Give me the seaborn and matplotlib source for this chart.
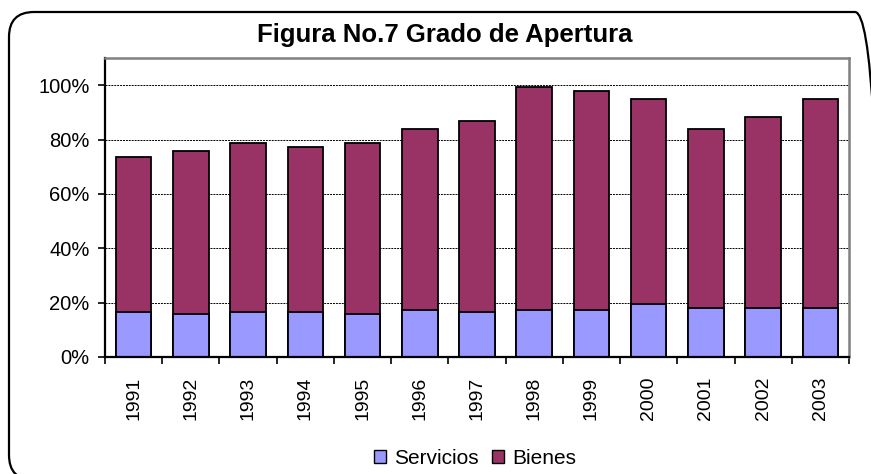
import numpy as np
import pandas as pd
import matplotlib
matplotlib.use('Agg')
import matplotlib.pyplot as plt
import seaborn as sns
from matplotlib.patches import FancyBboxPatch, Patch
from matplotlib.ticker import PercentFormatter

# datos (fraccion del PIB)
anios = ['1991', '1992', '1993', '1994', '1995', '1996', '1997',
         '1998', '1999', '2000', '2001', '2002', '2003']
servicios = [0.166, 0.157, 0.166, 0.166, 0.157, 0.173, 0.166,
             0.173, 0.173, 0.194, 0.182, 0.182, 0.182]
total = [0.736, 0.758, 0.787, 0.772, 0.787, 0.839, 0.868,
         0.993, 0.979, 0.950, 0.839, 0.883, 0.950]
bienes = [t - s for t, s in zip(total, servicios)]

df = pd.DataFrame({'anio': anios, 'Servicios': servicios,
                   'Bienes': bienes, 'total': total})

sns.set_style('white')
plt.rcParams['font.family'] = ['Liberation Sans', 'DejaVu Sans']
plt.rcParams['text.color'] = 'black'
plt.rcParams['xtick.color'] = 'black'
plt.rcParams['ytick.color'] = 'black'

fig = plt.figure(figsize=(8.71, 4.74), dpi=100)
ax = fig.add_axes([105/871, 1 - 357/474, (849 - 105)/871, (357 - 58)/474])

# borde redondeado exterior (en pulgadas)
caja = FancyBboxPatch((0.09, -0.06), 8.71, 4.68,
                      boxstyle='round,pad=0,rounding_size=0.25',
                      transform=fig.dpi_scale_trans, fill=False,
                      edgecolor='black', linewidth=1.6)
fig.patches.append(caja)

# barras apiladas: total (bienes) detras, servicios delante
sns.barplot(data=df, x='anio', y='total', color='#993366', width=0.62,
            edgecolor='black', linewidth=1.3, saturation=1, ax=ax)
sns.barplot(data=df, x='anio', y='Servicios', color='#9999FF', width=0.62,
            edgecolor='black', linewidth=1.3, saturation=1, ax=ax)

ax.set_ylim(0, 1.1)
ax.set_xlim(-0.5, len(anios) - 0.5)
ax.set_yticks(np.arange(0, 1.01, 0.2))
ax.yaxis.set_major_formatter(PercentFormatter(1.0, decimals=0))
ax.yaxis.grid(True, color='black', linestyle=(0, (2, 1)), linewidth=0.7)
ax.set_axisbelow(True)

ax.set_xticks(range(len(anios)))
ax.set_xticklabels(anios, rotation=90, fontsize=14)
ax.set_xticks(np.arange(-0.5, len(anios)), minor=True)
ax.tick_params(axis='x', which='major', length=0, pad=14)
ax.tick_params(axis='x', which='minor', length=5, width=1.2, color='black',
               direction='out', bottom=True)
ax.tick_params(axis='y', length=5, width=1.2, color='black', direction='out',
               left=True, labelsize=14.5, pad=6)
ax.set_xlabel('')
ax.set_ylabel('')

for lado in ['left', 'bottom']:
    ax.spines[lado].set_color('black')
    ax.spines[lado].set_linewidth(1.6)
for lado in ['top', 'right']:
    ax.spines[lado].set_color('#808080')
    ax.spines[lado].set_linewidth(1.8)

fig.text(445/871, 1 - 35/474, 'Figura No.7 Grado de Apertura',
         ha='center', va='center', fontsize=18.5, fontweight='bold')

manejadores = [Patch(facecolor='#9999FF', edgecolor='black', label='Servicios'),
               Patch(facecolor='#993366', edgecolor='black', label='Bienes')]
fig.legend(handles=manejadores, loc='center', bbox_to_anchor=(475/871, 1 - 458/474),
           ncol=2, frameon=False, fontsize=15, handlelength=0.6, handleheight=0.6,
           handletextpad=0.4, columnspacing=0.6, borderpad=0)

fig.savefig('out.png', dpi=100)
